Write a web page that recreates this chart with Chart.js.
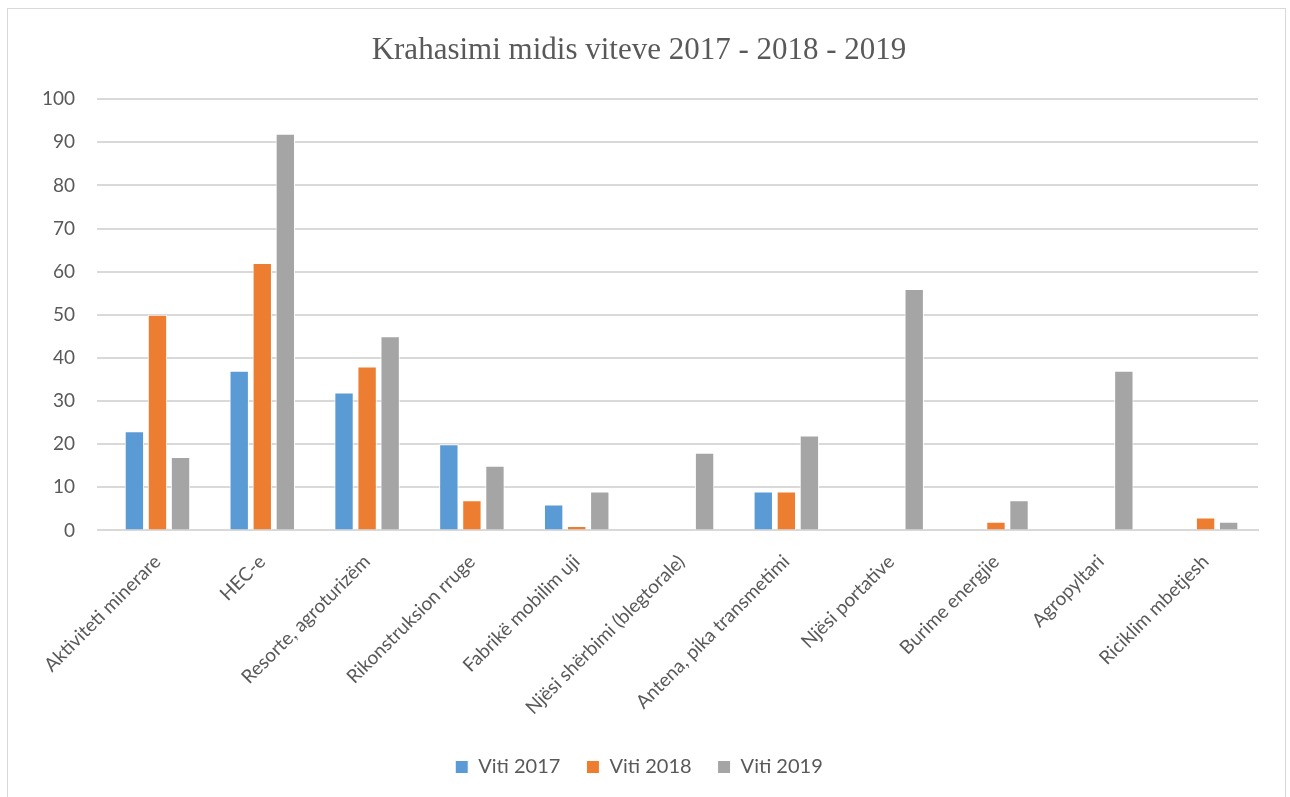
<!DOCTYPE html>
<html>
<head>
<meta charset="utf-8">
<script src="https://cdn.jsdelivr.net/npm/chart.js@4"></script>
<style>
  body { margin: 0; background: #fff; }
  #frame { position: absolute; left: 7px; top: 8px; width: 1279px; height: 800px; border: 1px solid #d9d9d9; box-sizing: border-box; }
  #wrap { position: absolute; left: 0; top: 0; width: 1290px; height: 797px; }
</style>
</head>
<body>
<div id="frame"></div>
<div id="wrap"><canvas id="myChart" width="1290" height="797"></canvas></div>
<script>
// Kategorite dhe vlerat
const kategorite = [
  'Aktiviteti minerare', 'HEC-e', 'Resorte, agroturizëm', 'Rikonstruksion rruge',
  'Fabrikë mobilim uji', 'Njësi shërbimi (blegtorale)', 'Antena, pika transmetimi',
  'Njësi portative', 'Burime energjie', 'Agropyltari', 'Riciklim mbetjesh'
];
const viti2017 = [23, 37, 32, 20, 6, 0, 9, 0, 0, 0, 0];
const viti2018 = [50, 62, 38, 7, 1, 0, 9, 0, 2, 0, 3];
const viti2019 = [17, 92, 45, 15, 9, 18, 22, 56, 7, 37, 2];

const gri = '#595959';
const ctx = document.getElementById('myChart').getContext('2d');

new Chart(ctx, {
  type: 'bar',
  data: {
    labels: kategorite,
    datasets: [
      { label: 'Viti 2017', data: viti2017, backgroundColor: '#5b9bd5' },
      { label: 'Viti 2018', data: viti2018, backgroundColor: '#ed7d31' },
      { label: 'Viti 2019', data: viti2019, backgroundColor: '#a5a5a5' }
    ]
  },
  options: {
    responsive: false,
    animation: false,
    devicePixelRatio: 1,
    layout: { padding: { left: 20, right: 32, top: 8, bottom: 10 } },
    datasets: {
      bar: { categoryPercentage: 0.66, barPercentage: 0.84, borderColor: '#ffffff', borderWidth: 1 }
    },
    plugins: {
      title: {
        display: true,
        text: 'Krahasimi midis viteve 2017 - 2018 - 2019',
        color: gri,
        font: { family: '"Liberation Serif", "Times New Roman", serif', size: 31, weight: 'normal' },
        padding: { top: 24, bottom: 30 }
      },
      legend: {
        position: 'bottom',
        labels: {
          color: gri,
          font: { family: 'Lato, "Open Sans", sans-serif', size: 20 },
          boxWidth: 13,
          boxHeight: 13,
          padding: 26
        }
      },
      tooltip: { enabled: false }
    },
    scales: {
      x: {
        grid: { display: false },
        border: { display: true, color: '#d9d9d9', width: 2 },
        ticks: {
          color: gri,
          maxRotation: 45,
          minRotation: 45,
          padding: 12,
          font: { family: 'Lato, "Open Sans", sans-serif', size: 19 }
        }
      },
      y: {
        min: 0,
        max: 100,
        border: { display: false },
        grid: { color: '#d9d9d9', lineWidth: 2 },
        ticks: {
          stepSize: 10,
          color: gri,
          padding: 22,
          font: { family: 'Lato, "Open Sans", sans-serif', size: 19 }
        }
      }
    }
  }
});
</script>
</body>
</html>
